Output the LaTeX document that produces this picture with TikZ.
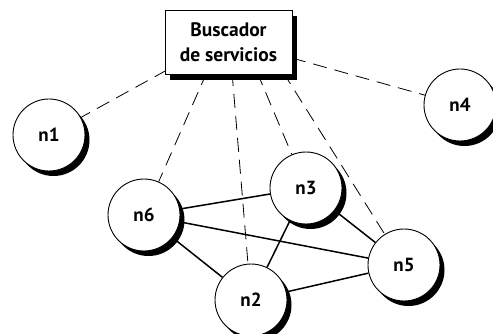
\documentclass[tikz,border=0pt]{standalone}
\usepackage{fontspec}
\setmainfont{PT Sans}
\usetikzlibrary{shadows,backgrounds}
\begin{document}
\begin{tikzpicture}[x=1pt,y=-1pt,
  shd/.style={drop shadow={shadow xshift=4.5pt,shadow yshift=-5pt,fill=black,opacity=1}},
  nd/.style={circle,draw,fill=white,line width=0.9pt,minimum size=72pt,inner sep=0pt,shd,font=\fontsize{19}{19}\selectfont\bfseries},
  boxnode/.style={rectangle,draw,fill=white,line width=0.9pt,minimum width=127pt,minimum height=64pt,inner sep=2pt,align=center,
     drop shadow={shadow xshift=5pt,shadow yshift=-6pt,fill=black,opacity=1},font=\fontsize{19.5}{25}\selectfont\bfseries},
  dl/.style={dash pattern=on 14pt off 8pt,line width=0.8pt},
  sl/.style={line width=1.5pt}]
\useasboundingbox (0,0) rectangle (493,334);
\node[boxnode] (box) at (228.5,42) {Buscador\\de servicios};
\node[nd] (n1) at (49,135) {n1};
\node[nd] (n4) at (460,105) {n4};
\node[nd] (n6) at (144,215) {n6};
\node[nd] (n3) at (306,188) {n3};
\node[nd] (n2) at (251,300) {n2};
\node[nd] (n5) at (404,265) {n5};
\coordinate (b1) at (167,70);
\coordinate (b6) at (207,72);
\coordinate (b2) at (232,72);
\coordinate (b3) at (257,72);
\coordinate (b5) at (283,72);
\coordinate (b4) at (292,58);
\begin{pgfonlayer}{background}
\draw[dl] (b1) -- (n1);
\draw[dl] (b6) -- (n6);
\draw[dl] (b2) -- (n2);
\draw[dl] (b3) -- (n3);
\draw[dl] (b5) -- (n5);
\draw[dl] (b4) -- (n4);
\draw[sl] (n6) -- (n3);
\draw[sl] (n6) -- (n5);
\draw[sl] (n6) -- (n2);
\draw[sl] (n3) -- (n2);
\draw[sl] (n3) -- (n5);
\draw[sl] (n2) -- (n5);
\end{pgfonlayer}
\end{tikzpicture}
\end{document}
